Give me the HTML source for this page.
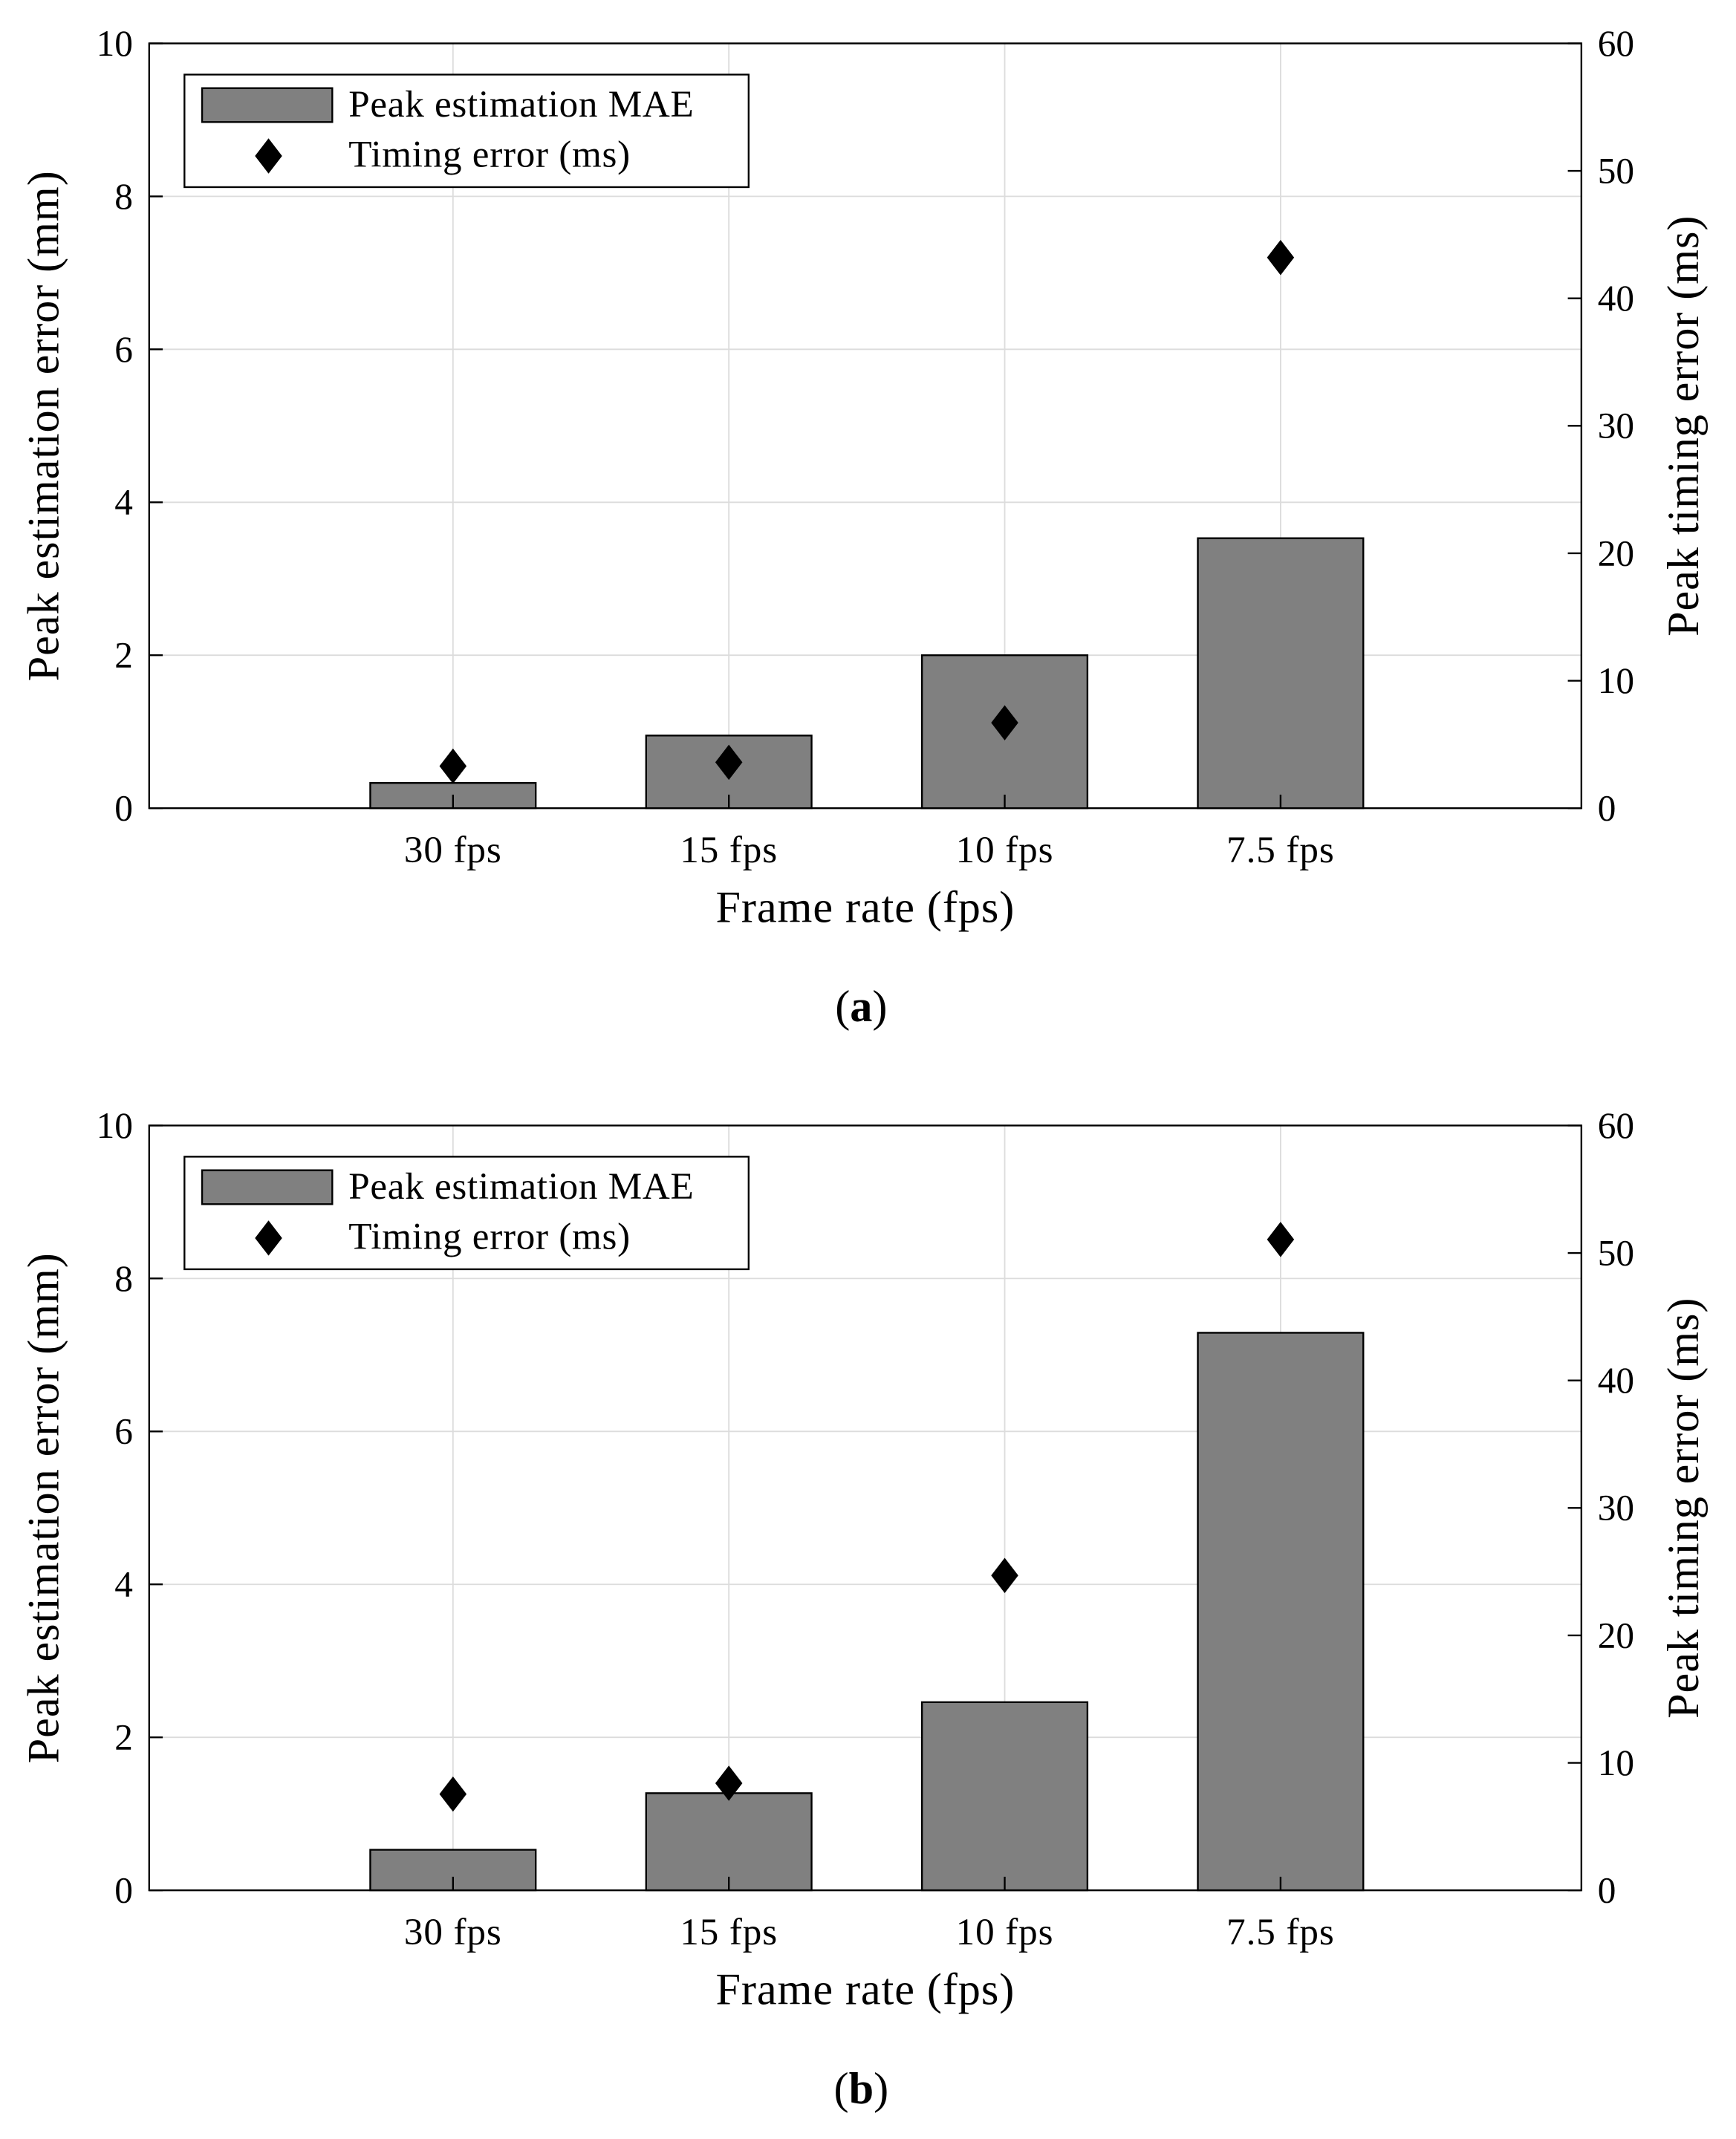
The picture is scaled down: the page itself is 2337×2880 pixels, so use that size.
<!DOCTYPE html>
<html><head><meta charset="utf-8"><style>
html,body{margin:0;padding:0;background:#fff;}
svg{display:block;}
text{font-family:"Liberation Serif",serif;fill:#000;}
</style></head><body>
<svg id="chart" width="2337" height="2880" viewBox="0 0 1280 1577.4" xmlns="http://www.w3.org/2000/svg"></svg>
<script>
const categories = ["30 fps","15 fps","10 fps","7.5 fps"];
const maeA = [0.33, 0.95, 2.0, 3.53];
const timingA = [3.3, 3.6, 6.7, 43.2];
const maeB = [0.53, 1.27, 2.46, 7.29];
const timingB = [7.55, 8.4, 24.7, 51.06];
const leftTicks = [0,2,4,6,8,10];
const rightTicks = [0,10,20,30,40,50,60];

const NS="http://www.w3.org/2000/svg";
const svg=document.getElementById('chart');
function mk(tag,attrs,parent,txt){const e=document.createElementNS(NS,tag);for(const k in attrs)e.setAttribute(k,attrs[k]);if(txt!==undefined)e.textContent=txt;(parent||svg).appendChild(e);return e;}

function panel(top,mae,timing,label,id){
  const L=110,R=1166,T=top,B=top+564;
  const g=mk('g',{});
  
  
  const x=i=>334+i*203.4;
  const yL=v=>B-(v/10)*(B-T);
  const yR=v=>B-(v/60)*(B-T);
  leftTicks.forEach(t=>{if(t>0&&t<10){const l=mk('line',{x1:L,x2:R,y1:yL(t),y2:yL(t),stroke:'#dcdcdc','stroke-width':1},g);}});
  categories.forEach((c,i)=>{const l=mk('line',{x1:x(i),x2:x(i),y1:T,y2:B,stroke:'#dcdcdc','stroke-width':1},g);});
  mae.forEach((v,i)=>{const r=mk('rect',{x:x(i)-61,y:yL(v),width:122,height:B-yL(v),fill:'#808080',stroke:'#000','stroke-width':1.3},g);});
  timing.forEach((v,i)=>{const cx=x(i),cy=yR(v);const p=mk('polygon',{points:`${cx},${cy-13} ${cx+10},${cy} ${cx},${cy+13} ${cx-10},${cy}`,fill:'#000'},g);});
  const ax=mk('rect',{x:L,y:T,width:R-L,height:B-T,fill:'none',stroke:'#000','stroke-width':1.3},g);
  leftTicks.forEach(t=>{mk('line',{x1:L,x2:L+10,y1:yL(t),y2:yL(t),stroke:'#000','stroke-width':1.3},g);const tx=mk('text',{x:L-12,y:yL(t)+9,'text-anchor':'end','font-size':27},g,String(t));});
  rightTicks.forEach(t=>{mk('line',{x1:R-10,x2:R,y1:yR(t),y2:yR(t),stroke:'#000','stroke-width':1.3},g);const tx=mk('text',{x:R+12,y:yR(t)+9,'font-size':27},g,String(t));});
  categories.forEach((c,i)=>{mk('line',{x1:x(i),x2:x(i),y1:B,y2:B-10,stroke:'#000','stroke-width':1.3},g);const tx=mk('text',{x:x(i),y:B+40,'text-anchor':'middle','font-size':28,'letter-spacing':0.5},g,c);});
  const xt=mk('text',{x:638,y:B+84,'text-anchor':'middle','font-size':33,'letter-spacing':0.5},g,'Frame rate (fps)');
  const yt=mk('text',{x:0,y:0,'text-anchor':'middle','font-size':33,'letter-spacing':0.5,transform:`translate(43,${(T+B)/2}) rotate(-90)`},g,'Peak estimation error (mm)');
  const yt2=mk('text',{x:0,y:0,'text-anchor':'middle','font-size':33,'letter-spacing':0.5,transform:`translate(1252,${(T+B)/2}) rotate(-90)`},g,'Peak timing error (ms)');
  const lg=mk('g',{},g);
  mk('rect',{x:136,y:T+23,width:416,height:83,fill:'#fff',stroke:'#000','stroke-width':1.3},lg);
  mk('rect',{x:149,y:T+33,width:96,height:25,fill:'#808080',stroke:'#000','stroke-width':1.3},lg);
  const l1=mk('text',{x:257,y:T+54,'font-size':28,'letter-spacing':0.4},lg,'Peak estimation MAE');
  mk('polygon',{points:`198,${T+70} 208,${T+83} 198,${T+96} 188,${T+83}`,fill:'#000'},lg);
  const l2=mk('text',{x:257,y:T+91,'font-size':28,'letter-spacing':0.4},lg,'Timing error (ms)');
  const cap=mk('text',{x:635,y:B+157,'text-anchor':'middle','font-size':33},g);
  
  mk('tspan',{},cap,'(');mk('tspan',{'font-weight':'bold'},cap,label);mk('tspan',{},cap,')');
}
panel(32,maeA,timingA,'a','a');
panel(830,maeB,timingB,'b','b');
</script>
</body></html>
